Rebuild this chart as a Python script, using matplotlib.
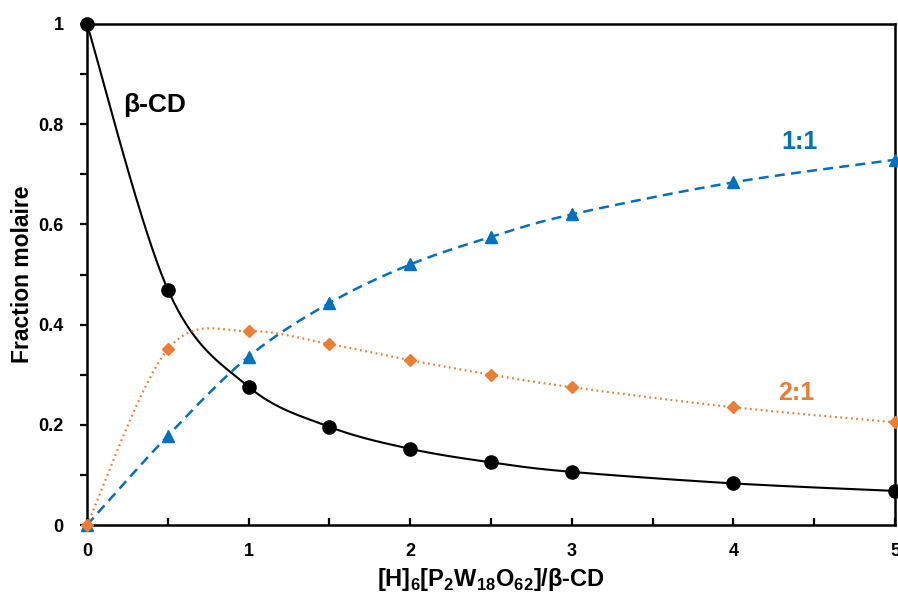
import numpy as np
import matplotlib
matplotlib.use("Agg")
import matplotlib.pyplot as plt

plt.rcParams['font.family'] = ['Liberation Sans', 'DejaVu Sans']
plt.rcParams['mathtext.fontset'] = 'custom'
plt.rcParams['mathtext.rm'] = 'Liberation Sans:bold'
plt.rcParams['mathtext.bf'] = 'Liberation Sans:bold'

# Ratio [H]6[P2W18O62] / beta-CD
ratio = [0, 0.5, 1, 1.5, 2, 2.5, 3, 4, 5]
# Mole fractions
free_cd = [1.0, 0.470, 0.276, 0.196, 0.152, 0.125, 0.106, 0.083, 0.068]
complex_11 = [0.0, 0.178, 0.336, 0.443, 0.520, 0.575, 0.620, 0.684, 0.729]
complex_21 = [0.0, 0.351, 0.387, 0.361, 0.329, 0.300, 0.275, 0.235, 0.205]

x_major = [0, 1, 2, 3, 4, 5]
x_minor = [0.5, 1.5, 2.5, 3.5, 4.5]
y_major = [0, 0.2, 0.4, 0.6, 0.8, 1.0]
y_minor = [0.1, 0.3, 0.5, 0.7, 0.9]
x_labels = ['0', '1', '2', '3', '4', '5']
y_labels = ['0', '0.2', '0.4', '0.6', '0.8', '1']

XMAX, YMAX = 5.0, 1.0
AX_W, AX_H = 808.0, 501.0  # axes size in pixels, used to smooth in screen space


def smooth(xs, ys, n=40):
    """Smoothed line through the points (cubic Bezier, Catmull-Rom tangents)."""
    px = np.asarray(xs, float) / XMAX * AX_W
    py = np.asarray(ys, float) / YMAX * AX_H
    pts = np.column_stack([px, py])
    m = len(pts)
    out = []
    t = np.linspace(0, 1, n)[:, None]
    for i in range(m - 1):
        p0 = pts[max(i - 1, 0)]
        p1 = pts[i]
        p2 = pts[i + 1]
        p3 = pts[min(i + 2, m - 1)]
        c1 = p1 + (p2 - p0) / 6.0
        c2 = p2 - (p3 - p1) / 6.0
        seg = ((1 - t) ** 3) * p1 + 3 * ((1 - t) ** 2) * t * c1 + 3 * (1 - t) * t ** 2 * c2 + t ** 3 * p2
        out.append(seg if i == 0 else seg[1:])
    out = np.vstack(out)
    return out[:, 0] / AX_W * XMAX, out[:, 1] / AX_H * YMAX


BLACK = '#000000'
BLUE = '#0070C0'
ORANGE = '#ED7D31'

fig = plt.figure(figsize=(8.98, 5.96), dpi=100)
ax = fig.add_axes([87 / 898, 1 - 525 / 596, 808 / 898, 501 / 596])

sx, sy = smooth(ratio, free_cd)
ax.plot(sx, sy, color=BLACK, lw=1.5, solid_capstyle='round')
ax.plot(ratio, free_cd, ls='none', marker='o', ms=9.5, color=BLACK, clip_on=False, zorder=5)

sx, sy = smooth(ratio, complex_11)
ax.plot(sx, sy, color=BLUE, lw=1.8, ls=(0, (4, 2.5)))
ax.plot(ratio, complex_11, ls='none', marker='^', ms=9, color=BLUE, clip_on=False, zorder=5)

sx, sy = smooth(ratio, complex_21)
ax.plot(sx, sy, color=ORANGE, lw=1.6, ls=(0, (0.8, 1.6)))
ax.plot(ratio, complex_21, ls='none', marker='D', ms=6.5, color=ORANGE, clip_on=False, zorder=5)

ax.set_xlim(0, XMAX)
ax.set_ylim(0, YMAX)

ax.set_xticks(x_major)
ax.set_xticks(x_minor, minor=True)
ax.set_yticks(y_major)
ax.set_yticks(y_minor, minor=True)
ax.set_xticklabels(x_labels, fontsize=13, fontweight='bold')
ax.set_yticklabels(y_labels, fontsize=13, fontweight='bold')

ax.tick_params(axis='x', which='both', direction='in', length=5, width=1.6, pad=13)
ax.tick_params(axis='y', which='both', direction='out', length=5, width=1.6, pad=12)

for sp in ax.spines.values():
    sp.set_linewidth(1.8)

ax.set_ylabel('Fraction molaire', fontsize=16.5, fontweight='bold', labelpad=3)
ax.set_xlabel(r'[H]$_\mathbf{6}$[P$_\mathbf{2}$W$_\mathbf{18}$O$_\mathbf{62}$]/β-CD',
              fontsize=17, fontweight='bold', labelpad=4)

ax.text(0.42, 0.838, 'β-CD', fontsize=19, fontweight='bold', color=BLACK,
        ha='center', va='center')
ax.text(4.41, 0.765, '1:1', fontsize=18, fontweight='bold', color=BLUE,
        ha='center', va='center')
ax.text(4.39, 0.263, '2:1', fontsize=18, fontweight='bold', color=ORANGE,
        ha='center', va='center')

fig.savefig('out.png', dpi=100)
